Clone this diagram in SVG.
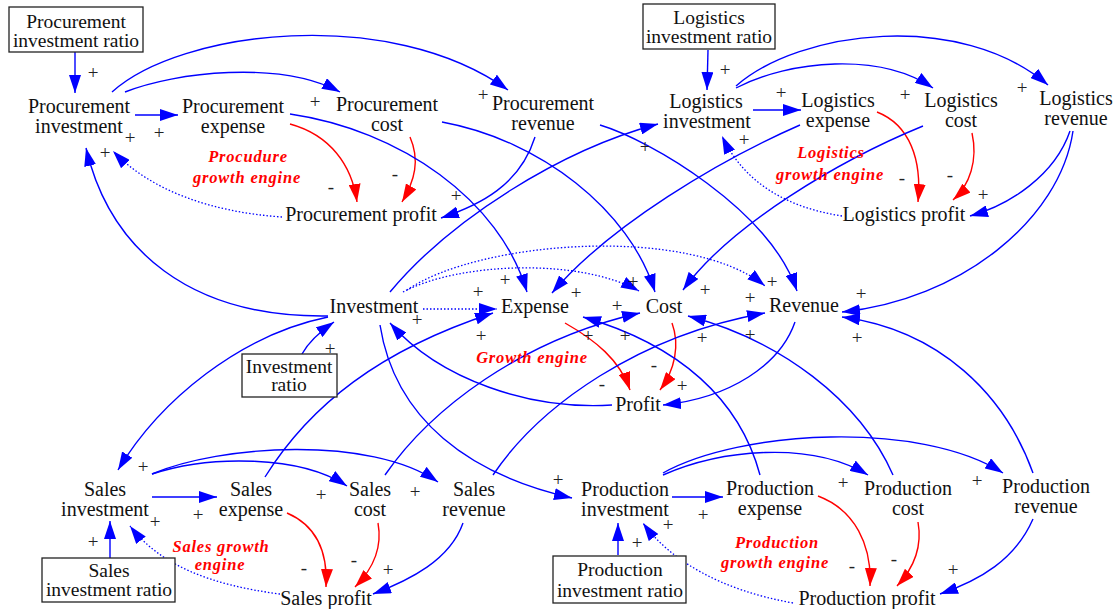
<svg xmlns="http://www.w3.org/2000/svg" width="1119" height="609" viewBox="0 0 1119 609">
  <style>
    .n { font-family: "Liberation Serif", "Times New Roman", serif; font-size: 20px; fill: #111; text-anchor: middle; }
    .bt { font-family: "Liberation Serif", "Times New Roman", serif; font-size: 19.5px; fill: #111; text-anchor: middle; }
    .s { font-family: "Liberation Serif", "Times New Roman", serif; font-size: 19px; fill: #222; text-anchor: middle; }
    .loop { font-family: "Liberation Serif", "Times New Roman", serif; font-size: 16.5px; font-weight: bold; font-style: italic; fill: #ff0000; letter-spacing: 0.8px; text-anchor: middle; }
    .box { fill: #fff; stroke: #222; stroke-width: 1.3; }
    .b { fill: none; stroke: #0000ff; stroke-width: 1.4; marker-end: url(#ab); }
    .d { fill: none; stroke: #0000ff; stroke-width: 1.3; stroke-dasharray: 1.5 2; marker-end: url(#ab); }
    .r { fill: none; stroke: #ff0000; stroke-width: 1.4; marker-end: url(#ar); }
  </style>
  <defs>
    <marker id="ab" viewBox="0 0 18 12" refX="18" refY="6" markerWidth="18" markerHeight="12" markerUnits="userSpaceOnUse" orient="auto">
      <path d="M0,0 L18,6 L0,12 z" fill="#0000ff"/>
    </marker>
    <marker id="ar" viewBox="0 0 18 12" refX="18" refY="6" markerWidth="18" markerHeight="12" markerUnits="userSpaceOnUse" orient="auto">
      <path d="M0,0 L18,6 L0,12 z" fill="#ff0000"/>
    </marker>
  </defs>
  <rect width="1119" height="609" fill="#fff"/>

  <g id="connectors">
    <!-- procurement loop -->
    <path class="b" d="M75,52 L75,93"/>
    <path class="b" d="M135,115 L178,115"/>
    <path class="b" d="M125,92 C175,72 280,60 340,92"/>
    <path class="b" d="M112,92 C180,30 390,5 508,90"/>
    <path class="r" d="M290,124 C330,135 352,165 357,202"/>
    <path class="r" d="M410,137 C420,160 415,180 402,202"/>
    <path class="b" d="M535,137 C520,185 480,205 441,218"/>
    <path class="d" d="M282,217 C210,212 150,190 113,151"/>
    <path class="b" d="M328,316 C190,318 110,250 86,148"/>
    <path class="b" d="M290,114 C400,130 500,200 527,292"/>
    <path class="b" d="M442,122 C540,140 630,210 655,292"/>
    <path class="b" d="M600,125 C650,140 770,210 797,291"/>
    <path class="b" d="M390,292 C450,220 560,150 658,124"/>

    <!-- logistics loop -->
    <path class="b" d="M708,50 L707,90"/>
    <path class="b" d="M753,110 L801,110"/>
    <path class="b" d="M736,88 C790,60 880,52 933,88"/>
    <path class="b" d="M736,86 C800,30 960,10 1048,85"/>
    <path class="r" d="M877,112 C910,125 922,160 918,202"/>
    <path class="r" d="M972,133 C978,160 970,185 953,200"/>
    <path class="b" d="M1070,131 C1055,175 1010,205 970,216"/>
    <path class="d" d="M842,216 C790,208 745,185 722,136"/>
    <path class="b" d="M800,125 C720,160 610,225 552,293"/>
    <path class="b" d="M923,126 C840,160 730,225 683,290"/>
    <path class="b" d="M1073,131 C1060,220 960,300 842,312"/>

    <!-- central loop -->
    <path class="b" d="M302,354 C308,343 318,333 334,322"/>
    <path class="d" d="M423,309 L497,309"/>
    <path class="d" d="M403,292 C460,262 580,258 639,291"/>
    <path class="d" d="M407,290 C480,240 690,225 765,286"/>
    <path class="r" d="M565,323 C595,340 620,360 630,390"/>
    <path class="r" d="M672,323 C680,345 675,370 660,390"/>
    <path class="b" d="M795,322 C780,365 730,398 663,405"/>
    <path class="b" d="M612,405 C530,410 440,380 390,323"/>
    <path class="b" d="M328,317 C240,335 160,400 118,470"/>
    <path class="b" d="M380,325 C395,420 470,475 572,498"/>

    <!-- sales loop -->
    <path class="b" d="M110,558 L110,521"/>
    <path class="b" d="M152,497 L217,497"/>
    <path class="b" d="M152,474 C210,455 300,455 347,486"/>
    <path class="b" d="M152,474 C220,445 370,435 438,482"/>
    <path class="r" d="M287,513 C315,525 328,550 326,587"/>
    <path class="r" d="M378,523 C383,550 372,570 355,587"/>
    <path class="b" d="M463,523 C450,560 410,580 373,594"/>
    <path class="d" d="M280,594 C210,585 160,565 130,526"/>
    <path class="b" d="M265,477 C310,405 380,350 493,313"/>
    <path class="b" d="M385,475 C430,410 520,340 640,313"/>
    <path class="b" d="M493,475 C540,405 640,335 765,313"/>

    <!-- production loop -->
    <path class="b" d="M618,555 L618,523"/>
    <path class="b" d="M672,497 L723,497"/>
    <path class="b" d="M663,475 C720,450 810,440 868,475"/>
    <path class="b" d="M663,473 C740,430 920,420 1003,473"/>
    <path class="r" d="M818,496 C855,510 872,545 870,586"/>
    <path class="r" d="M918,522 C923,550 912,570 897,586"/>
    <path class="b" d="M1033,519 C1015,560 980,580 940,594"/>
    <path class="d" d="M793,603 C720,590 670,560 643,523"/>
    <path class="b" d="M760,475 C740,400 680,345 583,317"/>
    <path class="b" d="M893,475 C860,400 780,340 688,316"/>
    <path class="b" d="M1033,473 C1005,395 940,330 842,317"/>

    <!-- link polarities -->
    <g class="s">
      <text x="93" y="79">+</text>
      <text x="159" y="139">+</text>
      <text x="315" y="108">+</text>
      <text x="483" y="101">+</text>
      <text x="130" y="144">+</text>
      <text x="105" y="159">+</text>
      <text x="331" y="193">-</text>
      <text x="395" y="180">-</text>
      <text x="456" y="202">+</text>

      <text x="725" y="76">+</text>
      <text x="781" y="99">+</text>
      <text x="905" y="101">+</text>
      <text x="1022" y="94">+</text>
      <text x="744" y="146">+</text>
      <text x="645" y="153">+</text>
      <text x="902" y="184">-</text>
      <text x="950" y="181">-</text>
      <text x="983" y="201">+</text>

      <text x="505" y="286">+</text>
      <text x="478" y="298">+</text>
      <text x="576" y="299">+</text>
      <text x="633" y="288">+</text>
      <text x="617" y="312">+</text>
      <text x="705" y="296">+</text>
      <text x="417" y="326">+</text>
      <text x="481" y="342">+</text>
      <text x="588" y="342">+</text>
      <text x="625" y="342">+</text>
      <text x="702" y="344">+</text>
      <text x="772" y="288">+</text>
      <text x="750" y="304">+</text>
      <text x="750" y="341">+</text>
      <text x="861" y="300">+</text>
      <text x="857" y="344">+</text>
      <text x="682" y="392">+</text>
      <text x="330" y="355">+</text>
      <text x="654" y="371">-</text>
      <text x="602" y="390">-</text>

      <text x="143" y="473">+</text>
      <text x="155" y="528">+</text>
      <text x="198" y="521">+</text>
      <text x="321" y="501">+</text>
      <text x="415" y="498">+</text>
      <text x="93" y="548">+</text>
      <text x="388" y="576">+</text>
      <text x="304" y="574">-</text>
      <text x="354" y="566">-</text>

      <text x="558" y="486">+</text>
      <text x="703" y="521">+</text>
      <text x="668" y="531">+</text>
      <text x="637" y="549">+</text>
      <text x="843" y="489">+</text>
      <text x="977" y="487">+</text>
      <text x="953" y="576">+</text>
      <text x="852" y="572">-</text>
      <text x="894" y="565">-</text>
    </g>
  </g>

  <!-- procurement nodes -->
  <g id="procurement-investment-ratio">
    <rect class="box" x="9" y="7" width="134" height="45"/>
    <text class="bt"><tspan x="76" y="28">Procurement</tspan><tspan x="76" y="47">investment ratio</tspan></text>
  </g>
  <g id="procurement-investment">
    <text class="n"><tspan x="79" y="113">Procurement</tspan><tspan x="79" y="133">investment</tspan></text>
  </g>
  <g id="procurement-expense">
    <text class="n"><tspan x="233" y="113">Procurement</tspan><tspan x="233" y="133">expense</tspan></text>
  </g>
  <g id="procurement-cost">
    <text class="n"><tspan x="387" y="111">Procurement</tspan><tspan x="387" y="131">cost</tspan></text>
  </g>
  <g id="procurement-revenue">
    <text class="n"><tspan x="543" y="110">Procurement</tspan><tspan x="543" y="130">revenue</tspan></text>
  </g>
  <g id="procurement-profit">
    <text class="n" x="361" y="221">Procurement profit</text>
  </g>

  <!-- logistics nodes -->
  <g id="logistics-investment-ratio">
    <rect class="box" x="643" y="4" width="132" height="45"/>
    <text class="bt"><tspan x="709" y="24">Logistics</tspan><tspan x="709" y="43">investment ratio</tspan></text>
  </g>
  <g id="logistics-investment">
    <text class="n"><tspan x="706" y="108">Logistics</tspan><tspan x="707" y="128">investment</tspan></text>
  </g>
  <g id="logistics-expense">
    <text class="n"><tspan x="838" y="107">Logistics</tspan><tspan x="838" y="127">expense</tspan></text>
  </g>
  <g id="logistics-cost">
    <text class="n"><tspan x="961" y="107">Logistics</tspan><tspan x="961" y="127">cost</tspan></text>
  </g>
  <g id="logistics-revenue">
    <text class="n"><tspan x="1076" y="105">Logistics</tspan><tspan x="1076" y="125">revenue</tspan></text>
  </g>
  <g id="logistics-profit">
    <text class="n" x="904" y="221">Logistics profit</text>
  </g>

  <!-- central nodes -->
  <g id="investment">
    <text class="n" x="374" y="313">Investment</text>
  </g>
  <g id="investment-ratio">
    <rect class="box" x="242" y="354" width="95" height="43"/>
    <text class="bt"><tspan x="289" y="373">Investment</tspan><tspan x="289" y="391">ratio</tspan></text>
  </g>
  <g id="expense">
    <text class="n" x="535" y="313">Expense</text>
  </g>
  <g id="cost">
    <text class="n" x="664" y="313">Cost</text>
  </g>
  <g id="revenue">
    <text class="n" x="804" y="312">Revenue</text>
  </g>
  <g id="profit">
    <text class="n" x="638" y="411">Profit</text>
  </g>

  <!-- sales nodes -->
  <g id="sales-investment">
    <text class="n"><tspan x="105" y="496">Sales</tspan><tspan x="105" y="516">investment</tspan></text>
  </g>
  <g id="sales-expense">
    <text class="n"><tspan x="251" y="496">Sales</tspan><tspan x="251" y="516">expense</tspan></text>
  </g>
  <g id="sales-cost">
    <text class="n"><tspan x="370" y="496">Sales</tspan><tspan x="370" y="516">cost</tspan></text>
  </g>
  <g id="sales-revenue">
    <text class="n"><tspan x="474" y="496">Sales</tspan><tspan x="474" y="516">revenue</tspan></text>
  </g>
  <g id="sales-profit">
    <text class="n" x="326" y="605">Sales profit</text>
  </g>
  <g id="sales-investment-ratio">
    <rect class="box" x="42" y="558" width="133" height="44"/>
    <text class="bt"><tspan x="109" y="577">Sales</tspan><tspan x="109" y="596">investment ratio</tspan></text>
  </g>

  <!-- production nodes -->
  <g id="production-investment">
    <text class="n"><tspan x="625" y="496">Production</tspan><tspan x="625" y="516">investment</tspan></text>
  </g>
  <g id="production-expense">
    <text class="n"><tspan x="770" y="495">Production</tspan><tspan x="770" y="515">expense</tspan></text>
  </g>
  <g id="production-cost">
    <text class="n"><tspan x="908" y="495">Production</tspan><tspan x="908" y="515">cost</tspan></text>
  </g>
  <g id="production-revenue">
    <text class="n"><tspan x="1046" y="493">Production</tspan><tspan x="1046" y="513">revenue</tspan></text>
  </g>
  <g id="production-profit">
    <text class="n" x="867" y="605">Production profit</text>
  </g>
  <g id="production-investment-ratio">
    <rect class="box" x="553" y="556" width="133" height="47"/>
    <text class="bt"><tspan x="620" y="576">Production</tspan><tspan x="620" y="597">investment ratio</tspan></text>
  </g>

  <!-- loop names -->
  <g id="loop-labels" class="loop">
    <text><tspan x="248" y="162">Procudure</tspan><tspan x="247" y="183">growth engine</tspan></text>
    <text><tspan x="831" y="158">Logistics</tspan><tspan x="830" y="180">growth engine</tspan></text>
    <text x="532" y="363">Growth engine</text>
    <text><tspan x="221" y="552">Sales growth</tspan><tspan x="220" y="570">engine</tspan></text>
    <text><tspan x="777" y="548">Production</tspan><tspan x="775" y="568">growth engine</tspan></text>
  </g>
</svg>
